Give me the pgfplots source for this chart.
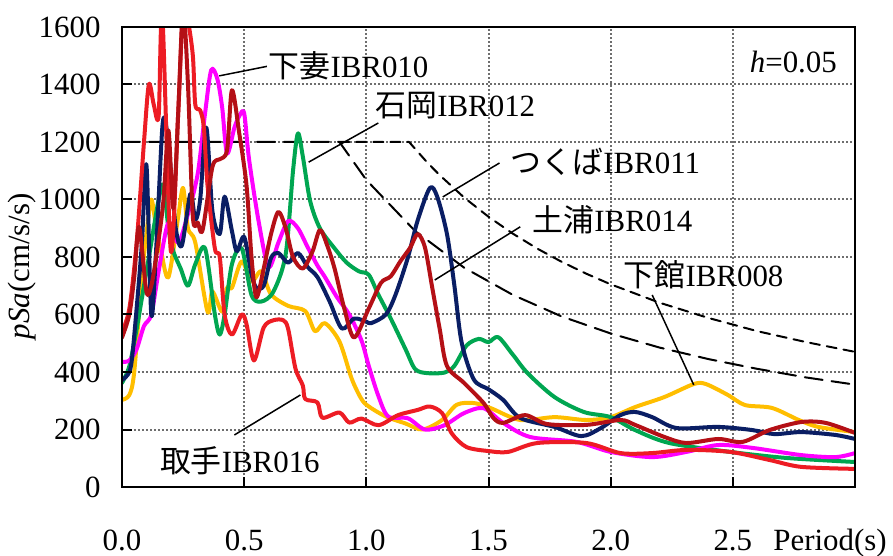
\documentclass[border=0pt]{standalone}
\usepackage{fontspec}
\setmainfont{Liberation Serif}
\newfontfamily\cjk{Noto Sans CJK JP}
\usepackage{pgfplots}
\pgfplotsset{compat=1.18}

\definecolor{cRed}{RGB}{237,28,36}
\definecolor{cDark}{RGB}{180,16,22}
\definecolor{cMag}{RGB}{255,0,255}
\definecolor{cGreen}{RGB}{0,166,81}
\definecolor{cNavy}{RGB}{10,30,100}
\definecolor{cOrange}{RGB}{255,190,0}
\definecolor{cGrid}{RGB}{110,110,110}
\pgfplotsset{gridline/.style={cGrid, line width=2bp, sharp plot, line cap=butt, dash pattern=on 2bp off 2bp, forget plot}}

\begin{document}
\begin{tikzpicture}[font=\fontsize{31}{36}\selectfont]
\useasboundingbox (-122bp,-69bp) rectangle (771bp,487bp);
\begin{axis}[
    scale only axis,
    width=733bp, height=460bp,
    xmin=0, xmax=3, ymin=0, ymax=1600,
    xtick={0,0.5,1,1.5,2,2.5},
    xticklabels={0.0,0.5,1.0,1.5,2.0,2.5},
    ytick={0,200,400,600,800,1000,1200,1400,1600},
    yticklabels={0,200,400,600,800,1000,1200,1400,1600},
    xtick pos=left, ytick pos=left,
    tick align=inside,
    major tick length=10bp,
    every tick/.style={line width=2bp, black},
    axis line style={line width=2.5bp},
    xticklabel style={anchor=base, yshift=-63bp},
    yticklabel style={xshift=-18bp},
    xlabel={Period(s)},
    xlabel style={at={(axis description cs:0.966,0)}, anchor=base, yshift=-63bp},
    ylabel={\textit{pSa}(cm/s/s)},
    ylabel style={at={(axis description cs:-0.136,0.48)}, anchor=center},
    axis on top,
    every axis plot/.append style={line width=4bp, smooth, tension=0.5, line join=round, line cap=round},
]
% grid (dotted)
\addplot[gridline] coordinates {(0.5,0) (0.5,1600)};
\addplot[gridline] coordinates {(1.0,0) (1.0,1600)};
\addplot[gridline] coordinates {(1.5,0) (1.5,1600)};
\addplot[gridline] coordinates {(2.0,0) (2.0,1600)};
\addplot[gridline] coordinates {(2.5,0) (2.5,1600)};
\addplot[gridline] coordinates {(0,200) (3,200)};
\addplot[gridline] coordinates {(0,400) (3,400)};
\addplot[gridline] coordinates {(0,600) (3,600)};
\addplot[gridline] coordinates {(0,800) (3,800)};
\addplot[gridline] coordinates {(0,1000) (3,1000)};
\addplot[gridline] coordinates {(0,1200) (3,1200)};
\addplot[gridline] coordinates {(0,1400) (3,1400)};

% design spectra
\addplot[black, line width=2bp, sharp plot, dash pattern=on 18bp off 9bp] coordinates {
(0,1200) (0.89,1200) (1.0,1068) (1.2,890) (1.4,763) (1.6,668) (1.8,593)
(2.0,534) (2.2,485) (2.4,445) (2.6,411) (2.8,381) (3.0,356)};
\addplot[black, line width=2bp, sharp plot, dash pattern=on 10bp off 7bp] coordinates {
(0.89,1200) (1.175,1200) (1.25,1128) (1.3,1085) (1.4,1007) (1.5,940) (1.6,881)
(1.7,829) (1.8,783) (1.9,742) (2.0,705) (2.2,641) (2.4,588) (2.6,542)
(2.8,504) (3.0,470)};

% 下館IBR008
\addplot[cOrange] coordinates {
(0,303) (0.03,320) (0.05,400) (0.08,720) (0.1,880) (0.12,1000) (0.14,900)
(0.16,820) (0.19,730) (0.23,940) (0.25,1040) (0.27,900) (0.3,850) (0.35,610)
(0.37,680) (0.41,610) (0.43,693) (0.45,693) (0.49,785) (0.53,715) (0.57,750)
(0.61,670) (0.68,630) (0.75,612) (0.79,542) (0.83,570) (0.89,506) (0.94,377)
(0.98,306) (1.01,280) (1.08,245) (1.16,221) (1.23,200) (1.31,233) (1.37,286)
(1.44,292) (1.51,274) (1.63,233) (1.77,243) (1.9,233) (2.0,243) (2.1,278)
(2.22,313) (2.34,358) (2.39,358) (2.48,320) (2.55,285) (2.66,275) (2.77,233)
(2.85,209) (3.0,191)};
% 石岡IBR012
\addplot[cGreen] coordinates {
(0,362) (0.03,420) (0.06,550) (0.09,700) (0.12,850) (0.15,1000) (0.17,1050)
(0.19,900) (0.21,820) (0.24,760) (0.27,700) (0.3,775) (0.34,830) (0.38,600)
(0.40,530) (0.42,600) (0.45,775) (0.49,830) (0.53,668) (0.57,645) (0.62,680)
(0.67,810) (0.70,1100) (0.72,1230) (0.74,1150) (0.77,995) (0.81,900) (0.87,830)
(0.92,780) (0.97,750) (1.01,738) (1.05,668) (1.1,586) (1.16,480) (1.2,410)
(1.25,396) (1.32,398) (1.36,421) (1.41,492) (1.46,515) (1.5,504) (1.54,521)
(1.6,460) (1.66,396) (1.77,313) (1.89,261) (2.0,243) (2.1,198) (2.24,153)
(2.49,122) (2.72,101) (3.0,87)};
% 下妻IBR010
\addplot[cMag] coordinates {
(0,435) (0.03,440) (0.06,480) (0.09,560) (0.12,600) (0.15,750) (0.19,920)
(0.23,850) (0.27,950) (0.31,1090) (0.34,1300) (0.365,1450) (0.39,1420)
(0.41,1320) (0.43,1160) (0.46,1250) (0.48,1290) (0.5,1300) (0.52,1140)
(0.56,920) (0.6,765) (0.64,850) (0.68,925) (0.72,900) (0.76,834) (0.8,770)
(0.83,731) (0.88,660) (0.93,600) (0.98,510) (1.01,421) (1.05,315) (1.09,245)
(1.17,239) (1.24,200) (1.32,215) (1.40,257) (1.48,274) (1.56,223) (1.67,174)
(1.86,157) (2.0,122) (2.17,104) (2.31,122) (2.44,146) (2.58,136) (2.78,111)
(2.92,104) (3.0,118)};
% つくばIBR011
\addplot[cNavy] coordinates {
(0,372) (0.03,400) (0.045,480) (0.08,830) (0.1,1120) (0.12,600) (0.14,830)
(0.165,1250) (0.18,1260) (0.2,1100) (0.22,900) (0.245,840) (0.28,1020)
(0.30,930) (0.32,1000) (0.345,1250) (0.37,960) (0.40,880) (0.42,1010)
(0.45,890) (0.47,820) (0.50,870) (0.53,740) (0.55,693) (0.58,700) (0.61,797)
(0.64,814) (0.68,780) (0.72,814) (0.76,765) (0.80,730) (0.85,645) (0.9,551)
(0.95,586) (1.0,575) (1.02,570) (1.08,600) (1.12,670) (1.17,798) (1.21,927)
(1.26,1040) (1.29,1010) (1.33,880) (1.36,703) (1.39,503) (1.44,374) (1.5,340)
(1.56,303) (1.63,240) (1.77,209) (1.88,177) (1.96,205) (2.04,250) (2.1,261)
(2.17,243) (2.27,205) (2.44,209) (2.58,198) (2.67,184) (2.78,191) (2.92,181)
(3.0,167)};
% 取手IBR016
\addplot[cRed] coordinates {
(0,540) (0.03,620) (0.06,850) (0.09,1200) (0.11,1400) (0.13,1330) (0.15,1290)
(0.165,1640) (0.2,820) (0.23,1300) (0.25,1660) (0.27,1620) (0.29,1500)
(0.30,1330) (0.32,1310) (0.335,1250) (0.35,1050) (0.38,830) (0.40,800)
(0.42,600) (0.45,530) (0.49,600) (0.51,565) (0.54,440) (0.58,555) (0.62,580)
(0.66,580) (0.68,550) (0.71,412) (0.74,353) (0.75,306) (0.80,294) (0.82,241)
(0.89,259) (0.93,224) (0.98,238) (1.05,215) (1.13,250) (1.21,268) (1.26,280)
(1.31,257) (1.35,186) (1.41,139) (1.5,125) (1.58,122) (1.7,153) (1.9,153)
(2.04,118) (2.17,118) (2.31,129) (2.49,122) (2.65,94) (2.78,70) (3.0,63)};
% 土浦IBR014
\addplot[cDark] coordinates {
(0,520) (0.03,600) (0.05,730) (0.07,905) (0.1,680) (0.12,700) (0.145,830)
(0.17,1000) (0.19,1240) (0.21,970) (0.23,1300) (0.25,1660) (0.27,1400)
(0.29,940) (0.31,920) (0.33,894) (0.37,1113) (0.40,1140) (0.43,1172)
(0.45,1380) (0.48,1230) (0.51,1046) (0.53,800) (0.55,660) (0.58,760)
(0.61,880) (0.64,957) (0.67,900) (0.70,800) (0.74,760) (0.78,820) (0.81,894)
(0.84,840) (0.87,760) (0.91,620) (0.95,520) (1.01,621) (1.06,710) (1.1,733)
(1.14,786) (1.18,833) (1.21,880) (1.24,833) (1.27,692) (1.3,551) (1.33,421)
(1.4,362) (1.48,292) (1.52,240) (1.56,223) (1.65,250) (1.74,219) (1.9,216)
(2.04,233) (2.1,216) (2.22,174) (2.31,153) (2.44,167) (2.54,157) (2.65,198)
(2.78,226) (2.88,223) (3.0,188)};

% labels and leader lines
\node[anchor=base east] at (axis cs:2.94,1440) {\textit{h}=0.05};
\draw[line width=1.5bp] (axis cs:0.398,1430) -- (axis cs:0.593,1463);
\node[anchor=base west, inner sep=0pt] at (axis cs:0.60,1426) {{\cjk 下妻}IBR010};
\draw[line width=1.5bp] (axis cs:0.764,1130) -- (axis cs:1.049,1266);
\node[anchor=base west, inner sep=0pt] at (axis cs:1.037,1287) {{\cjk 石岡}IBR012};
\draw[line width=1.5bp] (axis cs:1.313,1009) -- (axis cs:1.545,1127);
\node[anchor=base west, inner sep=0pt] at (axis cs:1.59,1092) {{\cjk つくば}IBR011};
\draw[line width=1.5bp] (axis cs:1.28,720) -- (axis cs:1.63,905);
\node[anchor=base west, inner sep=0pt] at (axis cs:1.68,887) {{\cjk 土浦}IBR014};
\draw[line width=1.5bp] (axis cs:2.17,668) -- (axis cs:2.34,355);
\node[anchor=base west, inner sep=0pt] at (axis cs:2.053,696) {{\cjk 下館}IBR008};
\draw[line width=1.5bp] (axis cs:0.46,181) -- (axis cs:0.73,320);
\node[anchor=base west, inner sep=0pt] at (axis cs:0.155,49) {{\cjk 取手}IBR016};
\end{axis}
\end{tikzpicture}
\end{document}
